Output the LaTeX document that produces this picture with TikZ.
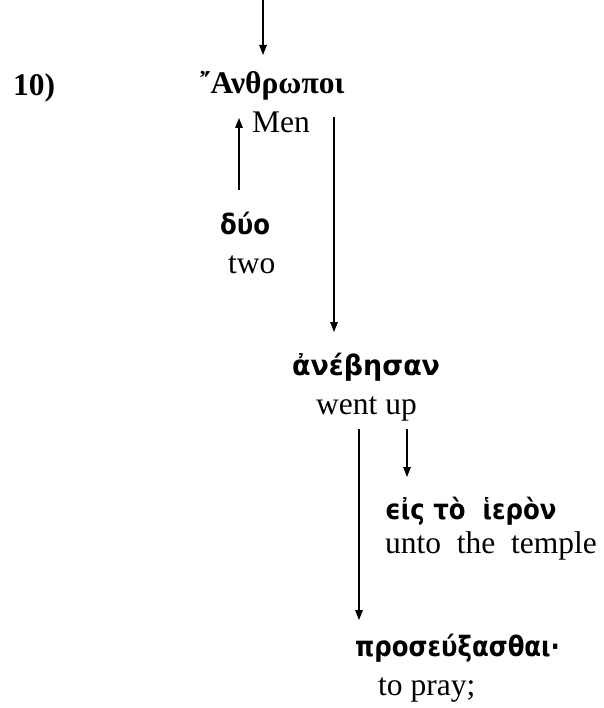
\documentclass[tikz,border=0pt]{standalone}
\usepackage{fontspec}
\setmainfont{Liberation Serif}
\newfontfamily\grk[FakeStretch=0.87]{DejaVu Sans}
\newfontfamily\grkwide[FakeStretch=0.96]{DejaVu Sans}
\usetikzlibrary{arrows.meta}
\tikzset{
  arr/.style={line width=1.4pt,-{Triangle[length=10pt,width=7.5pt]}},
  eng/.style={anchor=base west,inner sep=0pt,font=\fontsize{31.5}{31.5}\selectfont},
  grkb/.style={anchor=base west,inner sep=0pt,font=\grk\bfseries\fontsize{28}{28}\selectfont},
  grkw/.style={anchor=base west,inner sep=0pt,font=\grkwide\bfseries\fontsize{28}{28}\selectfont},
  serb/.style={anchor=base west,inner sep=0pt,font=\bfseries\fontsize{31.5}{31.5}\selectfont}
}
\begin{document}
\begin{tikzpicture}[x=1pt,y=-1pt]
\path[use as bounding box,fill=white] (0,0) rectangle (603,708);
% texts
\node[serb] (num) at (13,96) {10)};
\node[serb] (anth) at (200,94) {῎Ανθρωποι};
\node[eng] (men) at (252,133) {Men};
\node[grkb] (duo) at (220,235) {δύο};
\node[eng] (two) at (228,273) {two};
\node[grkw] (aneb) at (292,375) {ἀνέβησαν};
\node[eng] (went) at (316,414) {went up};
\node[grkb] (eis) at (385,519) {ϵἰς τὸ \ ἱερὸν};
\node[eng] (unto) at (385,553) {unto \ the \ temple};
\node[grkb] (pros) at (355,656) {προσεύξασθαι·};
\node[eng] (pray) at (378,695) {to pray;};
% connector end points
\coordinate (top0) at (263,0);
\coordinate (top1) at (263,55);
\coordinate (up0) at (239,190);
\coordinate (up1) at (239,118);
\coordinate (dn0) at (334,117);
\coordinate (dn1) at (334,332);
\coordinate (l0) at (359,429);
\coordinate (l1) at (359,620);
\coordinate (s0) at (407,429);
\coordinate (s1) at (407,477);
\draw[arr] (top0) -- (top1);
\draw[arr] (up0) -- (up1);
\draw[arr] (dn0) -- (dn1);
\draw[arr] (l0) -- (l1);
\draw[arr] (s0) -- (s1);
\end{tikzpicture}
\end{document}
